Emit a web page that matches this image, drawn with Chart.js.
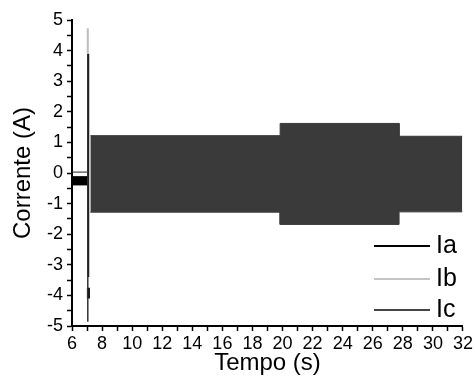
<!DOCTYPE html>
<html>
<head>
<meta charset="utf-8">
<script src="https://cdn.jsdelivr.net/npm/chart.js@4.4.1/dist/chart.umd.min.js"></script>
<style>
  body { margin: 0; background: #fff; }
  #wrap { position: relative; width: 475px; height: 381px; }
  .leg { position: absolute; left: 374px; font: 25px/28px "Liberation Sans", Arial, sans-serif; color: #000; }
  .leg span { display: inline-block; width: 56px; height: 2px; vertical-align: middle; margin-right: 6px; }
</style>
</head>
<body>
<div id="wrap">
  <canvas id="grafico" width="475" height="381"></canvas>
  <div class="leg" style="top:230px"><span style="background:#000"></span>Ia</div>
  <div class="leg" style="top:263px"><span style="background:#c4c4c4"></span>Ib</div>
  <div class="leg" style="top:294px"><span style="background:#444"></span>Ic</div>
</div>
<script>
// envelope of the oscillating band (A)
const tempoFaixa = [7.22, 19.84, 19.84, 27.75, 27.75, 31.95];
const picoFaixa = [1.22, 1.22, 1.62, 1.62, 1.20, 1.20];
const valeFaixa = [-1.28, -1.28, -1.68, -1.68, -1.27, -1.27];

// Ia before the event
const tempoPre = [6.0, 7.02];
const picoPre = [-0.12, -0.12];
const valePre = [-0.39, -0.39];
const linhaPreIb = [0.03, 0.03];

// transient at t ~ 7 s
const tempoSurtoIb = [7.05, 7.05];
const surtoIb = [4.73, 3.9];
const tempoSurtoIc = [7.05, 7.05];
const surtoIc = [3.9, -4.86];
const tempoSurtoIa = [7.08, 7.08];
const surtoIa = [3.9, -3.4];
const tempoSurtoIa2 = [7.09, 7.09];
const surtoIa2 = [-3.75, -4.1];

const ticksX = [6, 8, 10, 12, 14, 16, 18, 20, 22, 24, 26, 28, 30, 32];
const ticksY = [-5, -4, -3, -2, -1, 0, 1, 2, 3, 4, 5];

function pontos(xs, ys) {
    return xs.map((x, i) => ({ x: x, y: ys[i] }));
}

const fonte = { family: '"Liberation Sans", Arial, sans-serif', size: 18 };
const fonteTitulo = { family: '"Liberation Sans", Arial, sans-serif', size: 24, lineHeight: 1 };

new Chart(document.getElementById('grafico'), {
    type: 'line',
    data: {
        datasets: [
            { label: 'Ic', data: pontos(tempoFaixa, picoFaixa), borderColor: '#3a3a3a', borderWidth: 1, backgroundColor: '#3a3a3a', fill: '+1' },
            { label: 'Ic_min', data: pontos(tempoFaixa, valeFaixa), borderColor: '#3a3a3a', borderWidth: 1, fill: false },
            { label: 'Ia', data: pontos(tempoPre, picoPre), borderColor: '#000', borderWidth: 1, backgroundColor: '#000', fill: '+1' },
            { label: 'Ia_min', data: pontos(tempoPre, valePre), borderColor: '#000', borderWidth: 1, fill: false },
            { label: 'Ib_pre', data: pontos(tempoPre, linhaPreIb), borderColor: '#222', borderWidth: 1, fill: false },
            { label: 'Ib', data: pontos(tempoSurtoIb, surtoIb), borderColor: '#bdbdbd', borderWidth: 2, fill: false },
            { label: 'Ic_surto', data: pontos(tempoSurtoIc, surtoIc), borderColor: '#333', borderWidth: 1.5, fill: false },
            { label: 'Ia_surto', data: pontos(tempoSurtoIa, surtoIa), borderColor: '#111', borderWidth: 2, fill: false },
            { label: 'Ia_surto2', data: pontos(tempoSurtoIa2, surtoIa2), borderColor: '#000', borderWidth: 3, fill: false }
        ]
    },
    options: {
        responsive: false,
        animation: false,
        layout: { padding: { top: 20, right: 11, left: 0, bottom: 0 } },
        elements: { point: { radius: 0 }, line: { tension: 0 } },
        plugins: { legend: { display: false }, tooltip: { enabled: false } },
        scales: {
            x: {
                type: 'linear',
                min: 6,
                max: 32,
                afterFit: s => { s.height = 55; },
                afterBuildTicks: s => { s.ticks = []; for (let v = 6; v <= 32; v++) s.ticks.push({ value: v }); },
                ticks: {
                    autoSkip: false,
                    maxRotation: 0,
                    padding: 2,
                    color: '#000',
                    font: fonte,
                    callback: v => ticksX.includes(v) ? String(v) : ''
                },
                grid: { drawOnChartArea: false, tickLength: 5, tickColor: '#000', tickWidth: 1.5 },
                border: { color: '#000', width: 2 },
                title: { display: true, text: 'Tempo (s)', color: '#000', font: fonteTitulo, padding: { top: 0, bottom: 6 } }
            },
            y: {
                type: 'linear',
                min: -5,
                max: 5,
                afterFit: s => { s.width = 72; },
                afterBuildTicks: s => { s.ticks = []; for (let v = -5; v <= 5; v += 0.5) s.ticks.push({ value: v }); },
                ticks: {
                    autoSkip: false,
                    padding: 4,
                    color: '#000',
                    font: fonte,
                    callback: v => ticksY.includes(v) ? String(v) : ''
                },
                grid: { drawOnChartArea: false, tickLength: 5, tickColor: '#000', tickWidth: 1.5 },
                border: { color: '#000', width: 2 },
                title: { display: true, text: 'Corrente (A)', color: '#000', font: fonteTitulo, padding: { top: 11, bottom: 0 } }
            }
        }
    }
});
</script>
</body>
</html>
